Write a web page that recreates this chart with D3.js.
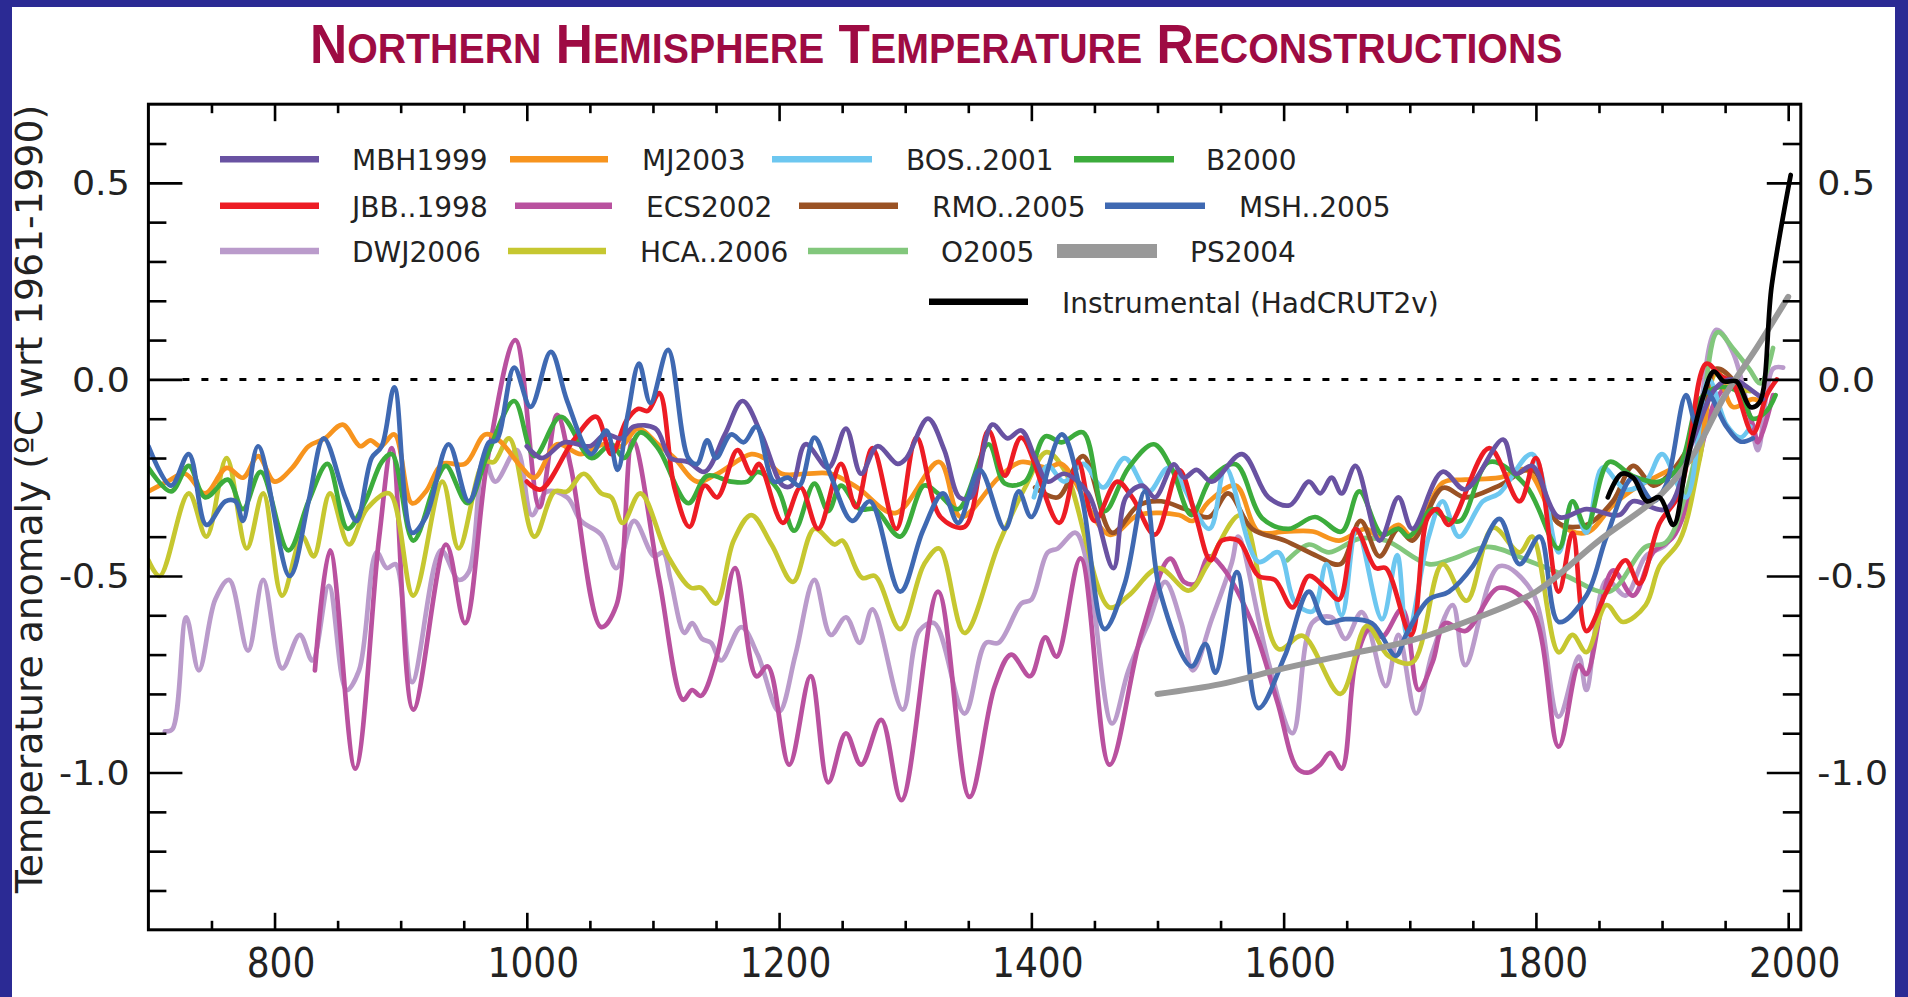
<!DOCTYPE html>
<html><head><meta charset="utf-8">
<script src="https://cdn.jsdelivr.net/npm/d3@7"></script>
<style>html,body{margin:0;padding:0;background:#fff;overflow:hidden}</style>
</head><body>
<svg id="chart" width="1908" height="997"></svg>
<script>
// ---------------- DATA ----------------
const MBH1999 = [[1000,-0.17],[1012,-0.20],[1030,-0.16],[1050,-0.17],[1062,-0.14],[1075,-0.15],[1085,-0.12],[1102,-0.125],[1114,-0.20],[1128,-0.21],[1141,-0.235],[1157,-0.14],[1171,-0.055],[1186,-0.14],[1203,-0.27],[1210,-0.27],[1221,-0.165],[1239,-0.225],[1253,-0.125],[1265,-0.24],[1278,-0.17],[1294,-0.215],[1301,-0.20],[1318,-0.10],[1331,-0.18],[1343,-0.30],[1352,-0.30],[1369,-0.115],[1381,-0.15],[1392,-0.13],[1403,-0.20],[1413,-0.26],[1426,-0.24],[1445,-0.29],[1465,-0.48],[1475,-0.30],[1488,-0.27],[1498,-0.30],[1513,-0.216],[1521,-0.25],[1531,-0.23],[1543,-0.26],[1567,-0.19],[1588,-0.30],[1605,-0.32],[1620,-0.26],[1629,-0.29],[1638,-0.25],[1646,-0.29],[1657,-0.22],[1676,-0.41],[1691,-0.30],[1702,-0.38],[1726,-0.235],[1744,-0.28],[1774,-0.153],[1784,-0.24],[1797,-0.22],[1818,-0.35],[1840,-0.33],[1866,-0.345],[1877,-0.31],[1903,-0.33],[1924,-0.16],[1943,-0.02],[1956,0.0],[1972,-0.03],[1980,-0.05]];
const MJ2003 = [[700,-0.285],[715,-0.26],[729,-0.24],[745,-0.29],[762,-0.225],[775,-0.25],[787,-0.195],[800,-0.26],[814,-0.225],[827,-0.17],[840,-0.15],[854,-0.115],[868,-0.17],[876,-0.155],[884,-0.17],[895,-0.14],[909,-0.315],[920,-0.285],[933,-0.215],[951,-0.215],[967,-0.14],[978,-0.155],[995,-0.22],[1006,-0.25],[1024,-0.165],[1043,-0.19],[1061,-0.165],[1075,-0.17],[1088,-0.125],[1104,-0.165],[1117,-0.20],[1135,-0.26],[1151,-0.24],[1178,-0.19],[1188,-0.20],[1202,-0.24],[1221,-0.24],[1241,-0.24],[1262,-0.275],[1292,-0.34],[1327,-0.21],[1344,-0.35],[1374,-0.25],[1392,-0.21],[1413,-0.225],[1424,-0.215],[1462,-0.395],[1485,-0.345],[1517,-0.345],[1528,-0.36],[1541,-0.31],[1562,-0.27],[1580,-0.387],[1601,-0.387],[1623,-0.387],[1644,-0.41],[1665,-0.38],[1676,-0.40],[1691,-0.37],[1702,-0.40],[1726,-0.263],[1744,-0.255],[1771,-0.25],[1792,-0.23],[1818,-0.366],[1840,-0.39],[1861,-0.32],[1877,-0.28],[1903,-0.235],[1925,-0.20],[1943,0.027],[1956,-0.07],[1972,-0.05],[1980,-0.06]];
const BOS2001 = [[1402,-0.30],[1413,-0.22],[1426,-0.26],[1441,-0.215],[1457,-0.275],[1474,-0.20],[1493,-0.285],[1509,-0.225],[1541,-0.38],[1554,-0.225],[1580,-0.464],[1596,-0.44],[1609,-0.567],[1623,-0.59],[1634,-0.47],[1646,-0.60],[1658,-0.38],[1678,-0.61],[1690,-0.447],[1698,-0.652],[1715,-0.40],[1726,-0.31],[1739,-0.40],[1758,-0.31],[1771,-0.29],[1797,-0.19],[1818,-0.44],[1829,-0.31],[1840,-0.39],[1853,-0.224],[1871,-0.28],[1887,-0.26],[1900,-0.19],[1919,-0.30],[1937,0.0],[1951,-0.115],[1962,-0.148],[1970,-0.12]];
const B2000 = [[700,-0.225],[718,-0.285],[732,-0.22],[745,-0.30],[763,-0.255],[775,-0.33],[789,-0.235],[811,-0.435],[827,-0.31],[842,-0.215],[858,-0.38],[872,-0.31],[885,-0.21],[893,-0.19],[910,-0.41],[928,-0.26],[936,-0.22],[953,-0.315],[969,-0.19],[990,-0.055],[1006,-0.195],[1027,-0.095],[1051,-0.20],[1067,-0.165],[1077,-0.20],[1090,-0.135],[1104,-0.175],[1128,-0.315],[1143,-0.245],[1162,-0.26],[1175,-0.26],[1183,-0.235],[1199,-0.28],[1212,-0.385],[1228,-0.265],[1239,-0.335],[1249,-0.27],[1264,-0.33],[1276,-0.33],[1296,-0.40],[1315,-0.27],[1326,-0.29],[1342,-0.33],[1366,-0.165],[1379,-0.265],[1395,-0.26],[1411,-0.145],[1424,-0.16],[1441,-0.135],[1458,-0.335],[1477,-0.225],[1497,-0.165],[1511,-0.225],[1527,-0.345],[1543,-0.25],[1562,-0.216],[1583,-0.353],[1604,-0.38],[1625,-0.35],[1646,-0.387],[1660,-0.285],[1678,-0.395],[1691,-0.38],[1699,-0.40],[1718,-0.33],[1728,-0.353],[1740,-0.36],[1763,-0.21],[1792,-0.27],[1818,-0.43],[1829,-0.31],[1840,-0.377],[1858,-0.21],[1877,-0.246],[1898,-0.26],[1914,-0.22],[1930,-0.05],[1945,-0.02],[1961,-0.033],[1972,-0.10],[1983,-0.08],[1990,-0.04]];
const JBB1998 = [[1000,-0.26],[1011,-0.28],[1037,-0.155],[1055,-0.095],[1067,-0.19],[1079,-0.105],[1088,-0.075],[1096,-0.08],[1105,-0.035],[1117,-0.275],[1129,-0.375],[1141,-0.27],[1151,-0.30],[1167,-0.18],[1178,-0.24],[1184,-0.215],[1203,-0.365],[1217,-0.275],[1231,-0.38],[1249,-0.215],[1261,-0.325],[1274,-0.175],[1293,-0.38],[1309,-0.148],[1328,-0.35],[1347,-0.375],[1366,-0.13],[1379,-0.245],[1392,-0.148],[1422,-0.365],[1437,-0.21],[1450,-0.36],[1468,-0.26],[1480,-0.30],[1498,-0.395],[1517,-0.23],[1530,-0.345],[1542,-0.46],[1551,-0.41],[1564,-0.41],[1580,-0.50],[1593,-0.51],[1607,-0.58],[1620,-0.50],[1633,-0.53],[1644,-0.56],[1657,-0.38],[1673,-0.48],[1681,-0.48],[1701,-0.65],[1714,-0.353],[1722,-0.33],[1731,-0.37],[1763,-0.175],[1787,-0.31],[1800,-0.20],[1818,-0.54],[1829,-0.39],[1840,-0.64],[1856,-0.54],[1871,-0.46],[1882,-0.52],[1898,-0.366],[1914,-0.29],[1935,0.04],[1946,0.01],[1956,-0.01],[1972,-0.137],[1983,-0.04],[1991,0.0]];
const ECS2002 = [[832,-0.74],[844,-0.435],[864,-0.99],[883,-0.40],[893,-0.175],[910,-0.84],[936,-0.42],[951,-0.62],[969,-0.20],[991,0.10],[1010,-0.325],[1024,-0.09],[1035,-0.225],[1059,-0.63],[1071,-0.575],[1084,-0.155],[1105,-0.51],[1124,-0.815],[1131,-0.79],[1138,-0.805],[1151,-0.70],[1165,-0.48],[1182,-0.755],[1191,-0.73],[1208,-0.98],[1225,-0.755],[1239,-1.025],[1253,-0.90],[1265,-0.98],[1281,-0.866],[1297,-1.07],[1326,-0.54],[1351,-1.062],[1371,-0.78],[1384,-0.70],[1399,-0.755],[1411,-0.656],[1420,-0.705],[1439,-0.455],[1462,-0.98],[1487,-0.65],[1510,-0.456],[1521,-0.515],[1530,-0.52],[1541,-0.45],[1552,-0.48],[1575,-0.62],[1595,-0.82],[1611,-0.99],[1620,-1.0],[1629,-0.98],[1637,-0.95],[1646,-0.99],[1657,-0.72],[1668,-0.635],[1678,-0.655],[1694,-0.584],[1707,-0.79],[1718,-0.72],[1728,-0.62],[1744,-0.64],[1771,-0.53],[1797,-0.585],[1818,-0.934],[1834,-0.727],[1840,-0.75],[1861,-0.486],[1877,-0.55],[1893,-0.44],[1909,-0.40],[1924,-0.27],[1943,-0.05],[1956,-0.01],[1972,-0.115],[1976,-0.16],[1988,-0.04]];
const RMO2005 = [[1403,-0.275],[1421,-0.30],[1441,-0.195],[1464,-0.39],[1485,-0.32],[1503,-0.31],[1522,-0.33],[1541,-0.35],[1556,-0.29],[1575,-0.38],[1601,-0.41],[1627,-0.45],[1645,-0.47],[1661,-0.36],[1676,-0.45],[1691,-0.38],[1702,-0.41],[1726,-0.276],[1744,-0.30],[1771,-0.27],[1797,-0.23],[1818,-0.366],[1840,-0.37],[1861,-0.31],[1877,-0.22],[1893,-0.27],[1903,-0.25],[1925,-0.15],[1943,0.027],[1956,0.0],[1965,-0.05]];
const MSH2005 = [[700,-0.17],[718,-0.27],[732,-0.19],[746,-0.37],[761,-0.31],[769,-0.31],[775,-0.36],[787,-0.17],[812,-0.50],[827,-0.31],[839,-0.15],[856,-0.30],[865,-0.36],[877,-0.20],[885,-0.17],[895,-0.02],[909,-0.39],[920,-0.35],[938,-0.165],[954,-0.31],[970,-0.16],[976,-0.155],[990,0.03],[1003,-0.07],[1019,0.07],[1032,-0.055],[1051,-0.19],[1063,-0.13],[1072,-0.23],[1080,-0.09],[1089,0.04],[1098,-0.06],[1112,0.075],[1128,-0.20],[1135,-0.215],[1143,-0.155],[1150,-0.20],[1162,-0.14],[1172,-0.16],[1182,-0.12],[1196,-0.26],[1207,-0.25],[1216,-0.27],[1228,-0.148],[1241,-0.245],[1258,-0.36],[1272,-0.31],[1296,-0.54],[1314,-0.385],[1330,-0.29],[1342,-0.365],[1359,-0.23],[1379,-0.38],[1390,-0.285],[1400,-0.35],[1424,-0.14],[1440,-0.30],[1458,-0.635],[1474,-0.52],[1490,-0.285],[1502,-0.54],[1527,-0.73],[1538,-0.673],[1546,-0.746],[1563,-0.49],[1580,-0.836],[1601,-0.703],[1620,-0.54],[1633,-0.618],[1649,-0.61],[1670,-0.62],[1689,-0.703],[1697,-0.65],[1715,-0.56],[1731,-0.54],[1750,-0.475],[1771,-0.355],[1787,-0.47],[1803,-0.40],[1818,-0.617],[1840,-0.55],[1856,-0.40],[1877,-0.25],[1893,-0.31],[1903,-0.27],[1919,-0.04],[1927,-0.115],[1935,-0.03],[1951,-0.12],[1962,-0.158],[1972,-0.15]];
const DWJ2006 = [[713,-0.895],[719,-0.89],[730,-0.605],[740,-0.74],[753,-0.56],[764,-0.51],[779,-0.69],[791,-0.51],[806,-0.735],[820,-0.65],[830,-0.715],[843,-0.525],[857,-0.79],[867,-0.74],[881,-0.44],[889,-0.48],[896,-0.47],[909,-0.77],[932,-0.435],[946,-0.51],[954,-0.49],[966,-0.20],[975,-0.26],[992,-0.18],[1004,-0.345],[1016,-0.285],[1032,-0.30],[1043,-0.36],[1059,-0.395],[1071,-0.48],[1085,-0.36],[1101,-0.45],[1108,-0.44],[1114,-0.51],[1125,-0.645],[1131,-0.62],[1139,-0.66],[1146,-0.67],[1154,-0.715],[1170,-0.63],[1183,-0.70],[1200,-0.845],[1213,-0.70],[1228,-0.51],[1241,-0.65],[1253,-0.605],[1264,-0.67],[1274,-0.585],[1298,-0.84],[1311,-0.64],[1323,-0.62],[1347,-0.85],[1364,-0.67],[1374,-0.67],[1392,-0.57],[1400,-0.56],[1413,-0.44],[1421,-0.43],[1435,-0.39],[1445,-0.48],[1464,-0.875],[1477,-0.74],[1493,-0.618],[1506,-0.515],[1519,-0.62],[1528,-0.74],[1543,-0.61],[1559,-0.465],[1564,-0.40],[1588,-0.72],[1607,-0.90],[1623,-0.618],[1638,-0.605],[1649,-0.66],[1662,-0.592],[1681,-0.78],[1691,-0.65],[1705,-0.85],[1718,-0.694],[1734,-0.574],[1744,-0.727],[1771,-0.475],[1797,-0.54],[1818,-0.858],[1834,-0.705],[1840,-0.79],[1856,-0.51],[1871,-0.55],[1887,-0.45],[1903,-0.42],[1919,-0.33],[1943,0.126],[1956,0.07],[1970,-0.10],[1976,-0.18],[1988,0.027],[1996,0.03]];
const HCA2006 = [[700,-0.46],[709,-0.50],[732,-0.29],[746,-0.40],[762,-0.20],[778,-0.43],[791,-0.29],[806,-0.55],[822,-0.40],[831,-0.45],[844,-0.29],[859,-0.42],[873,-0.33],[891,-0.29],[910,-0.55],[933,-0.26],[946,-0.43],[966,-0.21],[974,-0.21],[986,-0.15],[1006,-0.40],[1022,-0.285],[1032,-0.285],[1045,-0.24],[1059,-0.29],[1067,-0.30],[1076,-0.365],[1090,-0.29],[1112,-0.45],[1130,-0.53],[1138,-0.53],[1150,-0.57],[1164,-0.41],[1178,-0.345],[1194,-0.42],[1211,-0.515],[1228,-0.38],[1244,-0.42],[1250,-0.41],[1266,-0.505],[1276,-0.50],[1296,-0.635],[1315,-0.47],[1327,-0.43],[1347,-0.645],[1374,-0.42],[1395,-0.275],[1412,-0.185],[1427,-0.235],[1462,-0.58],[1477,-0.55],[1501,-0.48],[1525,-0.537],[1540,-0.47],[1566,-0.345],[1596,-0.686],[1615,-0.652],[1645,-0.80],[1666,-0.627],[1683,-0.703],[1702,-0.72],[1726,-0.47],[1745,-0.563],[1766,-0.377],[1787,-0.44],[1797,-0.40],[1818,-0.694],[1829,-0.65],[1840,-0.694],[1856,-0.574],[1869,-0.617],[1887,-0.574],[1898,-0.475],[1914,-0.41],[1930,-0.20],[1943,0.016],[1956,-0.02],[1970,-0.03]];
const O2005 = [[1603,-0.46],[1620,-0.42],[1636,-0.44],[1660,-0.405],[1681,-0.41],[1715,-0.47],[1734,-0.456],[1762,-0.426],[1797,-0.465],[1824,-0.50],[1858,-0.54],[1887,-0.426],[1903,-0.415],[1919,-0.29],[1930,-0.137],[1944,0.12],[1956,0.08],[1969,0.027],[1978,-0.01],[1988,0.08]];
const PS2004 = [[1500,-0.80],[1550,-0.775],[1600,-0.735],[1650,-0.70],[1700,-0.665],[1750,-0.61],[1800,-0.54],[1850,-0.41],[1900,-0.29],[1925,-0.19],[1950,-0.04],[1975,0.08],[2000,0.21]];
const HadCRUT2v = [[1857,-0.30],[1868,-0.24],[1877,-0.25],[1888,-0.31],[1898,-0.30],[1909,-0.37],[1919,-0.22],[1932,-0.05],[1941,0.02],[1949,-0.005],[1959,-0.005],[1970,-0.07],[1977,-0.06],[1987,0.24],[2002,0.52]];

const seriesNames = ["MBH1999","MJ2003","BOS..2001","B2000","JBB..1998","ECS2002","RMO..2005","MSH..2005","DWJ2006","HCA..2006","O2005","PS2004","Instrumental (HadCRUT2v)"];
const seriesValues = [MBH1999,MJ2003,BOS2001,B2000,JBB1998,ECS2002,RMO2005,MSH2005,DWJ2006,HCA2006,O2005,PS2004,HadCRUT2v];

const xMajorTicks = [800,1000,1200,1400,1600,1800,2000];
const xMinorTicks = [750,850,900,950,1050,1100,1150,1250,1300,1350,1450,1500,1550,1650,1700,1750,1850,1900,1950];
const yMajorTicks = [0.5,0.0,-0.5,-1.0];
const yMinorTicks = [0.6,0.4,0.3,0.2,0.1,-0.1,-0.2,-0.3,-0.4,-0.6,-0.7,-0.8,-0.9,-1.1,-1.2,-1.3];
const titleWords = ["Northern","Hemisphere","Temperature","Reconstructions"];
const yTitle = "Temperature anomaly  (\u00BAC wrt 1961-1990)";

// ---------------- STYLE / LAYOUT ----------------
const colors = {"MBH1999":"#6952A2","MJ2003":"#F7941E","BOS..2001":"#6DC7F0","B2000":"#3CAC3C","JBB..1998":"#ED1C24","ECS2002":"#B9519F","RMO..2005":"#9A5224","MSH..2005":"#3F69B2","DWJ2006":"#BA9BCB","HCA..2006":"#C6C730","O2005":"#82C77C","PS2004":"#999999","Instrumental (HadCRUT2v)":"#000000"};
const drawOrder = ["DWJ2006","ECS2002","O2005","HCA..2006","MJ2003","RMO..2005","BOS..2001","B2000","JBB..1998","MBH1999","MSH..2005","PS2004","Instrumental (HadCRUT2v)"];
const legendRowsY = [159.3,205.7,251,301.7];
const legendLayout = {
 "MBH1999":[0,220,319,352],"MJ2003":[0,510,608,642],"BOS..2001":[0,772,872,906],"B2000":[0,1074,1174,1206],
 "JBB..1998":[1,220,319,352],"ECS2002":[1,515,612,646],"RMO..2005":[1,799,898,932],"MSH..2005":[1,1105,1205,1239],
 "DWJ2006":[2,220,319,352],"HCA..2006":[2,508,606,640],"O2005":[2,808,908,941],"PS2004":[2,1057,1157,1190],
 "Instrumental (HadCRUT2v)":[3,929,1028,1062]
};

const svg = d3.select("#chart");
const M = {left:148.4, right:1800.8, top:104.2, bottom:929.8};
const x = d3.scaleLinear().domain([700,2010]).range([M.left,M.right]);
const y = d3.scaleLinear().domain([-1.4,0.7]).range([M.bottom,M.top]);

svg.append("rect").attr("width",1908).attr("height",997).attr("fill","#fff");
// blue frame
svg.append("rect").attr("x",0).attr("y",0).attr("width",12).attr("height",997).attr("fill","#2B2A94");
svg.append("rect").attr("x",1895).attr("y",0).attr("width",13).attr("height",997).attr("fill","#2B2A94");
svg.append("rect").attr("x",0).attr("y",0).attr("width",1908).attr("height",7).attr("fill","#2B2A94");

// title
const title = svg.append("text").attr("y",63).attr("fill","#9E0B43")
  .style("font-family","'Liberation Sans Narrow','Liberation Sans','DejaVu Sans Condensed',sans-serif")
  .style("font-weight","bold");
titleWords.forEach((w,i)=>{
  title.append("tspan").style("font-size","55px").text((i?" ":"")+w[0].toUpperCase());
  title.append("tspan").style("font-size","42px").text(w.slice(1).toUpperCase());
});
{
  const bb = title.node().getBBox();
  const sx = (1563-310)/bb.width;
  title.attr("transform",`translate(310,0) scale(${sx},1) translate(${-bb.x},0)`);
}

// dotted zero line
svg.append("line").attr("x1",M.left+34).attr("x2",M.right-34).attr("y1",y(0)).attr("y2",y(0))
  .attr("stroke","#000").attr("stroke-width",3).attr("stroke-dasharray","7,12");

// series
const clip = svg.append("defs").append("clipPath").attr("id","clip");
clip.append("rect").attr("x",M.left).attr("y",M.top).attr("width",M.right-M.left).attr("height",M.bottom-M.top);
const lineGen = d3.line().x(d=>x(d[0])).y(d=>y(d[1])).curve(d3.curveCatmullRom.alpha(0.5));
const gLines = svg.append("g").attr("clip-path","url(#clip)");
drawOrder.forEach(name=>{
  const idx = seriesNames.indexOf(name);
  const w = name==="PS2004"?6:4.7;
  gLines.append("path").datum(seriesValues[idx]).attr("d",lineGen)
    .attr("fill","none").attr("stroke",colors[name]).attr("stroke-width",w)
    .attr("stroke-linejoin","round").attr("stroke-linecap","round");
});

// axes
const tickStroke = g=>{ g.select(".domain").remove(); g.selectAll(".tick line").attr("stroke","#000").attr("stroke-width",2.6); };
svg.append("g").attr("transform",`translate(0,${M.bottom})`).call(d3.axisBottom(x).tickValues(xMinorTicks).tickSize(-9).tickFormat("")).call(tickStroke);
svg.append("g").attr("transform",`translate(0,${M.top})`).call(d3.axisTop(x).tickValues(xMinorTicks).tickSize(-9).tickFormat("")).call(tickStroke);
svg.append("g").attr("transform",`translate(0,${M.top})`).call(d3.axisTop(x).tickValues(xMajorTicks).tickSize(-17).tickFormat("")).call(tickStroke);
const xb = svg.append("g").attr("transform",`translate(0,${M.bottom})`)
  .call(d3.axisBottom(x).tickValues(xMajorTicks).tickSize(-17).tickPadding(19).tickFormat(d3.format("d"))).call(tickStroke);
xb.selectAll("text").attr("x",6).attr("fill","#222")
  .style("font-family","'DejaVu Sans Condensed','DejaVu Sans',sans-serif").style("font-size","40px");

svg.append("g").attr("transform",`translate(${M.left},0)`).call(d3.axisLeft(y).tickValues(yMinorTicks).tickSize(-18).tickFormat("")).call(tickStroke);
svg.append("g").attr("transform",`translate(${M.right},0)`).call(d3.axisRight(y).tickValues(yMinorTicks).tickSize(-18).tickFormat("")).call(tickStroke);
const yl = svg.append("g").attr("transform",`translate(${M.left},0)`)
  .call(d3.axisLeft(y).tickValues(yMajorTicks).tickSize(-34).tickPadding(17).tickFormat(d=>d.toFixed(1))).call(tickStroke);
const yr = svg.append("g").attr("transform",`translate(${M.right},0)`)
  .call(d3.axisRight(y).tickValues(yMajorTicks).tickSize(-34).tickPadding(15).tickFormat(d=>d.toFixed(1))).call(tickStroke);
[yl,yr].forEach(g=>{
  g.selectAll("text").attr("fill","#222").attr("dy","0.36em")
   .style("font-family","'DejaVu Sans',sans-serif").style("font-size","33px")
   .attr("transform",`scale(1.1,1)`);
});
// frame
svg.append("rect").attr("x",M.left).attr("y",M.top).attr("width",M.right-M.left).attr("height",M.bottom-M.top)
  .attr("fill","none").attr("stroke","#000").attr("stroke-width",3);

// y title
const yt = svg.append("text").attr("text-anchor","middle").attr("fill","#222")
  .style("font-family","'DejaVu Sans Condensed','DejaVu Sans',sans-serif").style("font-size","37px").text(yTitle);
{
  const len = yt.node().getComputedTextLength();
  yt.attr("transform",`translate(42,499) rotate(-90) scale(${789/len},1)`);
}

// legend
const gLeg = svg.append("g");
seriesNames.forEach(name=>{
  const [row,x1,x2,tx] = legendLayout[name];
  const ly = legendRowsY[row];
  gLeg.append("line").attr("x1",x1).attr("x2",x2).attr("y1",ly).attr("y2",ly)
    .attr("stroke",colors[name]).attr("stroke-width",name==="PS2004"?14:6.5);
  gLeg.append("text").attr("x",tx).attr("y",ly+11).attr("fill","#222")
    .style("font-family","'DejaVu Sans',sans-serif").style("font-size","28px").text(name);
});
</script>
</body></html>
